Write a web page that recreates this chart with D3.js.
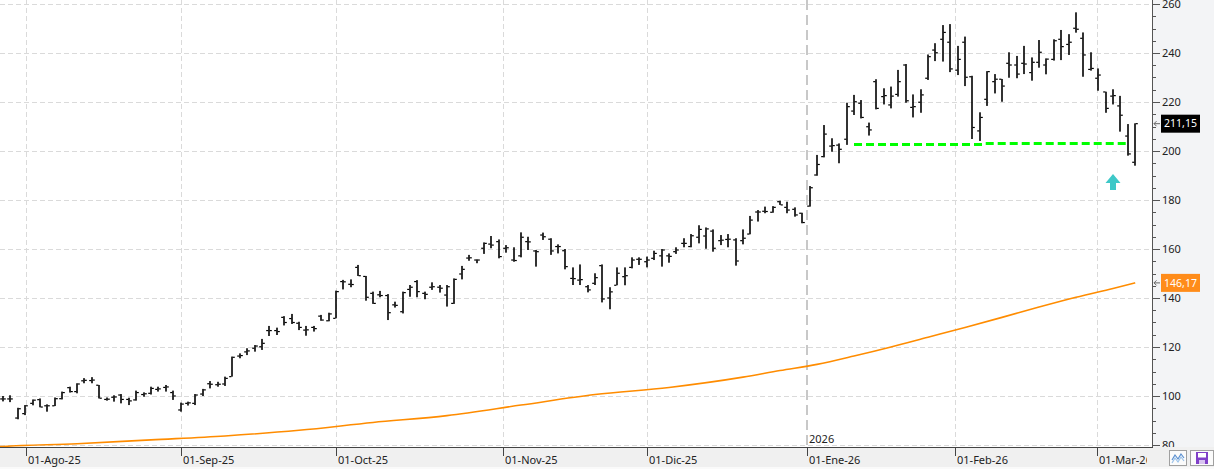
<!DOCTYPE html>
<html><head><meta charset="utf-8">
<script src="https://cdn.jsdelivr.net/npm/d3@7"></script>
<style>html,body{margin:0;padding:0;background:#fff;overflow:hidden}svg{display:block}text{font-family:"Noto Sans",sans-serif}</style>
</head><body><svg id="c" width="1214" height="469"></svg>
<script>
// ---- data (daily OHLC bars, one per trading session) ----
const opens = [98.8,98.8,91.0,92.8,97.0,98.5,96.0,96.0,98.9,103.4,101.8,106.2,106.3,104.4,98.6,99.5,100.4,98.6,98.4,100.6,101.1,102.7,103.5,101.4,94.3,97.0,97.0,100.8,105.0,104.6,104.9,107.9,116.3,118.0,119.5,120.1,126.7,126.7,132.1,131.6,129.7,126.9,128.0,132.6,130.7,131.7,146.7,145.6,152.5,148.8,141.9,141.3,141.0,137.2,134.4,143.5,146.7,141.9,144.4,144.4,141.2,137.8,149.8,156.3,155.5,160.3,162.0,163.0,160.3,155.5,157.2,163.0,159.2,165.7,164.0,161.0,159.3,148.0,147.3,144.6,146.0,153.2,140.0,145.2,148.7,152.5,155.8,154.8,156.2,157.2,157.2,158.9,162.3,161.0,164.8,165.3,167.3,163.4,163.9,163.7,163.4,166.1,175.1,175.4,175.0,179.3,177.0,176.2,174.6,177.5,190.2,197.7,202.0,202.4,204.8,216.3,219.5,209.9,228.3,222.2,218.8,223.1,235.1,217.8,219.9,229.7,241.2,245.6,244.4,233.0,244.4,230.3,208.2,221.1,228.3,229.3,235.8,235.1,235.8,232.0,236.2,235.1,237.4,245.6,243.5,250.1,246.0,233.3,229.7,224.1,222.4,218.4,206.1,195.4];
const highs = [100.0,100.3,95.2,96.3,98.6,99.0,96.6,99.4,101.8,103.8,105.2,107.3,107.7,104.5,99.4,100.3,100.8,99.3,102.2,101.5,103.8,103.8,104.5,102.2,97.3,97.7,100.8,102.9,106.1,105.8,107.9,116.1,117.4,119.5,120.8,123.3,128.6,127.9,132.6,133.5,130.3,128.6,128.6,133.1,134.0,143.0,147.4,147.6,153.5,149.0,142.6,142.9,141.6,138.5,142.6,145.3,147.3,142.6,146.4,145.3,145.3,148.0,153.1,157.6,155.8,162.7,165.3,163.9,161.6,160.7,166.8,165.0,159.6,166.7,164.4,161.9,160.0,152.5,153.7,145.3,150.1,153.7,144.4,152.5,152.5,156.6,156.6,156.9,159.3,160.0,158.2,160.7,164.4,166.1,169.7,168.8,168.0,165.7,166.1,164.4,168.0,173.5,175.9,177.3,177.5,179.7,179.3,177.0,174.8,185.7,198.4,210.6,205.2,203.1,219.7,222.9,220.8,211.6,229.3,225.6,226.3,233.1,235.5,223.1,225.2,239.4,244.0,251.4,251.8,242.9,246.7,230.7,215.8,232.6,231.4,229.4,240.3,238.8,242.9,238.2,245.3,237.8,245.6,249.4,247.7,256.6,248.4,240.3,233.7,224.2,225.2,222.5,211.0,211.3];
const lows = [97.8,97.5,90.5,92.2,96.2,95.4,93.6,95.9,98.6,101.4,101.1,105.2,105.2,99.0,98.1,97.7,97.0,96.3,98.1,99.7,100.6,101.8,101.8,98.4,93.6,96.1,96.3,100.0,103.1,103.8,104.1,107.9,115.4,116.7,118.1,118.8,124.5,124.9,128.8,129.4,126.9,124.6,126.3,130.7,130.5,131.7,143.5,144.4,149.0,138.9,137.6,140.3,131.0,136.1,133.7,140.5,140.3,139.5,143.3,142.2,136.5,137.6,147.6,155.2,154.2,158.0,160.3,156.2,158.5,154.8,156.6,159.6,152.8,163.7,157.6,158.2,151.7,145.3,145.3,142.3,145.3,138.2,135.4,145.2,145.2,152.1,153.5,152.5,155.5,152.8,154.4,158.0,160.7,160.7,162.3,160.1,158.9,161.6,160.7,153.2,161.9,166.0,171.2,174.6,174.8,178.0,174.6,173.2,170.5,177.3,189.9,197.4,199.7,195.0,202.5,214.7,213.3,206.3,217.0,219.0,217.4,222.2,219.7,213.7,215.6,229.0,236.7,236.5,232.2,231.0,226.5,204.9,204.1,218.4,223.5,220.1,229.9,229.7,231.4,228.7,234.0,231.3,236.9,237.1,239.2,248.3,230.3,232.8,224.6,215.6,219.0,207.9,198.1,194.0];
const closes = [98.8,98.8,94.8,96.0,98.3,95.5,96.0,98.9,101.4,101.8,104.9,106.4,106.5,99.1,98.7,99.6,98.6,98.0,101.4,100.9,103.1,102.9,103.7,100.0,96.7,97.2,100.4,102.5,104.8,104.8,107.2,115.8,116.5,118.4,120.4,121.5,126.7,126.3,130.0,130.0,128.0,127.0,127.5,131.0,133.5,142.6,146.6,145.5,149.1,140.3,137.8,141.0,134.0,137.0,142.2,144.4,142.6,141.5,144.6,144.0,144.6,147.6,151.7,156.4,155.5,162.3,161.6,156.9,160.5,155.3,164.8,162.9,158.9,165.0,159.2,161.0,152.8,147.9,147.5,143.3,148.3,139.6,142.5,150.1,149.1,155.5,155.8,155.5,158.2,159.6,157.0,159.6,162.3,165.4,168.0,168.2,160.3,163.6,164.0,155.1,164.4,171.8,175.1,175.3,177.0,178.0,175.9,173.9,170.8,185.0,194.5,206.9,202.2,200.7,218.1,220.1,213.7,208.6,217.4,222.6,222.4,228.3,220.5,218.1,222.9,238.5,240.1,248.4,233.5,237.4,230.1,209.6,213.7,232.4,229.3,226.5,235.1,231.4,235.5,236.2,240.3,237.5,245.0,242.6,244.4,249.7,239.2,233.7,231.0,217.4,222.6,214.6,198.8,211.15];
// 200-session moving average, read at sample sessions
const maIndex = [-0.5,0,10,20,30,40,50,60,70,80,90,100,105,110,115,120,125,130,135,140,145,150,153];
const maValues = [79.3,79.4,80.5,82.1,83.7,86.0,89.2,92.0,96.3,100.6,103.5,107.7,110.4,112.9,116.3,120.0,124.0,128.0,132.1,136.3,140.3,143.9,146.17];
// axis labels
const monthLabels = ["01-Ago-25","01-Sep-25","01-Oct-25","01-Nov-25","01-Dic-25","01-Ene-26","01-Feb-26","01-Mar-26"];
const monthIndex = [3.1,24,45,67.5,87,108.6,128.7,147.8];
const yearLabel = "2026";
const yearIndex = 108.6;
const yTicks = [80,100,120,140,160,180,200,220,240,260];
const yMinorTicks = d3.range(80,261,5);
// annotations
const supportStart = [115,132.8];
const supportEnd = [132.4,151.9];
const supportValue = [202.7,203.1];
const signalIndex = 150, signalValue = 190.6;
const lastClose = 211.15, lastMA = 146.17;
const fmt = v => v.toFixed(2).replace('.', ',');

// ---- drawing ----
const W = 1214, H = 469, plotR = 1152, plotB = 447;
const x = d3.scaleLinear().domain([0, 153]).range([3, 1135.2]);
const y = d3.scaleLinear().domain([80, 260]).range([445, 4]);
const svg = d3.select('#c');

svg.append('rect').attr('x', plotR).attr('y', 0).attr('width', W - plotR).attr('height', H).attr('fill', '#f3f4f6');
svg.append('defs').append('clipPath').attr('id', 'clip').append('rect')
  .attr('x', 0).attr('y', 0).attr('width', plotR).attr('height', plotB);
const plot = svg.append('g').attr('clip-path', 'url(#clip)');

// grid
plot.selectAll('line.hg').data(yTicks).join('line')
  .attr('x1', 0).attr('x2', plotR)
  .attr('y1', d => Math.round(y(d)) + 0.5).attr('y2', d => Math.round(y(d)) + 0.5)
  .attr('stroke', '#dadada').attr('stroke-dasharray', '5,3');
plot.selectAll('line.vg').data(monthIndex.filter(d => d !== yearIndex)).join('line')
  .attr('x1', d => Math.round(x(d)) + 0.5).attr('x2', d => Math.round(x(d)) + 0.5)
  .attr('y1', 0).attr('y2', plotB)
  .attr('stroke', '#dadada').attr('stroke-dasharray', '5,3');
plot.append('line')
  .attr('x1', Math.round(x(yearIndex))).attr('x2', Math.round(x(yearIndex)))
  .attr('y1', 0).attr('y2', plotB)
  .attr('stroke', '#c8c8c8').attr('stroke-width', 2).attr('stroke-dasharray', '10,5');

// moving average
plot.append('path')
  .datum(maIndex.map((d, i) => [d, maValues[i]]))
  .attr('d', d3.line().curve(d3.curveMonotoneX).x(d => x(d[0])).y(d => y(d[1])))
  .attr('fill', 'none').attr('stroke', '#ff8c00').attr('stroke-width', 1.6);

// OHLC bars
const bars = plot.append('g').attr('fill', '#000');
opens.forEach((o, i) => {
  const px = Math.round(x(i));
  const yh = y(highs[i]), yl = y(lows[i]);
  bars.append('rect').attr('x', px - 0.8).attr('width', 1.6).attr('y', yh).attr('height', Math.max(1, yl - yh));
  bars.append('rect').attr('x', px - 2.8).attr('width', 2.2).attr('y', y(o) - 0.6).attr('height', 1.2);
  bars.append('rect').attr('x', px + 0.6).attr('width', 2.2).attr('y', y(closes[i]) - 0.6).attr('height', 1.2);
});

// support lines
supportStart.forEach((s, i) => {
  plot.append('line')
    .attr('x1', x(s)).attr('x2', x(supportEnd[i]))
    .attr('y1', y(supportValue[i])).attr('y2', y(supportValue[i]))
    .attr('stroke', '#00ff00').attr('stroke-width', 3).attr('stroke-dasharray', '8,4');
});

// signal arrow
const ax = x(signalIndex), ay = y(signalValue);
plot.append('path')
  .attr('d', `M${ax},${ay} L${ax + 7.5},${ay + 9} L${ax + 3},${ay + 9} L${ax + 3},${ay + 16} L${ax - 3},${ay + 16} L${ax - 3},${ay + 9} L${ax - 7.5},${ay + 9} Z`)
  .attr('fill', '#3ec8c8');

// right axis
const ra = svg.append('g');
ra.append('line').attr('x1', plotR + 0.5).attr('x2', plotR + 0.5).attr('y1', 0).attr('y2', plotB)
  .attr('stroke', '#555');
ra.selectAll('line.t').data(yMinorTicks).join('line')
  .attr('x1', plotR).attr('x2', d => d % 20 === 0 ? plotR + 8 : plotR + 4)
  .attr('y1', d => Math.round(y(d)) + 0.5).attr('y2', d => Math.round(y(d)) + 0.5)
  .attr('stroke', '#555');
ra.selectAll('text').data(yTicks).join('text')
  .attr('x', 1162).attr('y', d => y(d)).attr('dy', '0.36em')
  .attr('font-size', 11).attr('fill', '#222').text(d => d);

// price tags
function tag(v, bg) {
  const ty = y(v);
  ra.append('path').attr('d', `M${plotR + 8},${ty} L${plotR + 2},${ty} M${plotR + 4.5},${ty - 2.5} L${plotR + 2},${ty} L${plotR + 4.5},${ty + 2.5}`)
    .attr('stroke', '#666').attr('fill', 'none');
  ra.append('rect').attr('x', 1161).attr('y', ty - 9).attr('width', 39).attr('height', 18).attr('fill', bg);
  ra.append('text').attr('x', 1180.5).attr('y', ty).attr('dy', '0.36em').attr('font-size', 10.5)
    .attr('text-anchor', 'middle').attr('fill', '#fff').text(fmt(v));
}
tag(lastClose, '#000');
tag(lastMA, '#ff8c1a');

// bottom axis panel
const ba = svg.append('g');
ba.append('rect').attr('x', 0).attr('y', plotB).attr('width', W).attr('height', H - plotB).attr('fill', '#f0f0f0');
ba.append('rect').attr('x', 0).attr('y', 467).attr('width', W).attr('height', 2).attr('fill', '#fafafa');
ba.append('line').attr('x1', 0).attr('x2', plotR + 1).attr('y1', plotB + 0.5).attr('y2', plotB + 0.5).attr('stroke', '#444');
svg.append('defs').append('clipPath').attr('id', 'bclip').append('rect')
  .attr('x', 0).attr('y', plotB).attr('width', 1147).attr('height', H - plotB);
const bl = ba.append('g').attr('clip-path', 'url(#bclip)');
bl.selectAll('line').data(monthIndex).join('line')
  .attr('x1', d => Math.round(x(d)) + 0.5).attr('x2', d => Math.round(x(d)) + 0.5)
  .attr('y1', plotB).attr('y2', plotB + 9).attr('stroke', '#444');
bl.selectAll('text').data(monthLabels).join('text')
  .attr('x', (d, i) => Math.round(x(monthIndex[i])) + 2).attr('y', 464)
  .attr('font-size', 11).attr('fill', '#222').text(d => d);
svg.append('text').attr('x', Math.round(x(yearIndex)) + 2).attr('y', 443)
  .attr('font-size', 11).attr('fill', '#222').text(yearLabel);

// corner buttons
const cb = svg.append('g');
cb.append('rect').attr('x', 1169.5).attr('y', 450.5).attr('width', 17).attr('height', 15).attr('fill', '#fbfbfb').attr('stroke', '#a0a0a0');
cb.append('polyline').attr('points', '1172,460 1175,455 1178,459 1181,454 1184,458').attr('fill', 'none').attr('stroke', '#5a8fd0').attr('stroke-width', 1.2);
cb.append('polyline').attr('points', '1172,463 1175,458 1178,462 1181,457 1184,461').attr('fill', 'none').attr('stroke', '#9cc3ea').attr('stroke-width', 1.2);
cb.append('rect').attr('x', 1190.5).attr('y', 450.5).attr('width', 23).attr('height', 15).attr('fill', '#fbfbfb').attr('stroke', '#a0a0a0');
cb.append('rect').attr('x', 1196).attr('y', 452).attr('width', 12).attr('height', 12).attr('fill', '#8040c8');
cb.append('rect').attr('x', 1198).attr('y', 453).attr('width', 8).attr('height', 4.5).attr('fill', '#fff');
cb.append('rect').attr('x', 1199).attr('y', 460).attr('width', 6).attr('height', 4).attr('fill', '#d8c4f0');
</script></body></html>
